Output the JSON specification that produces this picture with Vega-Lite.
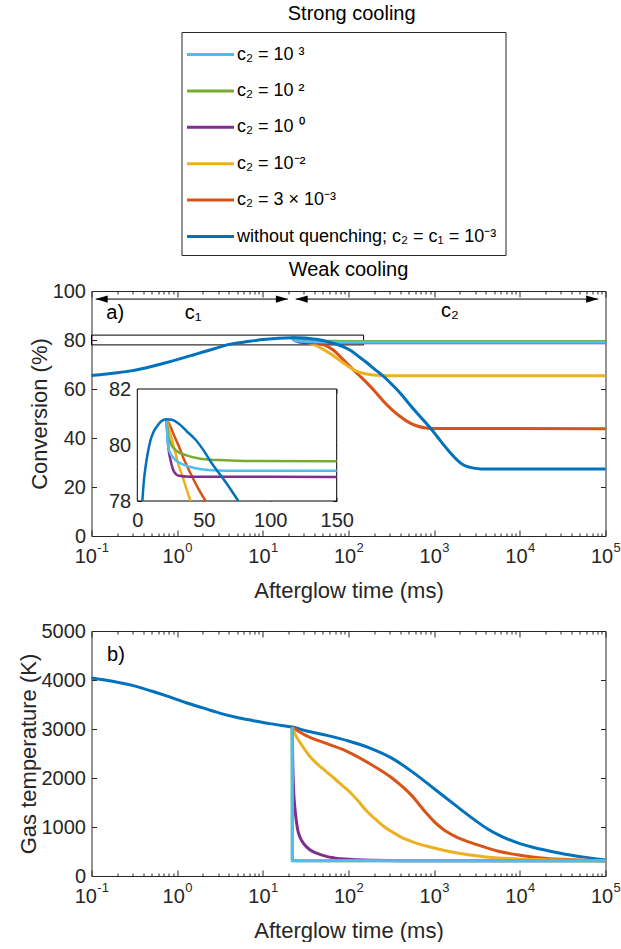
{
  "$schema": "https://vega.github.io/schema/vega-lite/v6.json",
  "background": "white",
  "padding": {"left": 16.5, "top": 3, "right": 0, "bottom": 0},
  "title": {"text": "Strong cooling", "fontSize": 20, "font": "Liberation Sans", "fontWeight": "normal", "color": "#000000", "anchor": "middle", "offset": 8, "dx": 33},
  "config": {
    "font": "Liberation Sans",
    "view": {"stroke": "#262626", "strokeWidth": 1},
    "axis": {"grid": false, "labelFont": "Liberation Sans", "labelFontSize": 20, "labelColor": "#262626", "titleFont": "Liberation Sans", "titleFontSize": 22, "titleFontWeight": "normal", "titleColor": "#262626", "domainColor": "#262626", "tickColor": "#262626", "tickWidth": 1, "zindex": 1, "labelOverlap": false, "labelFlush": false, "labelBound": false},
    "legend": {"orient": "none", "legendX": 90, "legendY": -259, "symbolType": "M-2,0L2,0", "symbolSize": 552, "symbolStrokeWidth": 3, "labelFontSize": 18, "labelFont": "Liberation Sans", "labelColor": "#000000", "labelLimit": 600, "rowPadding": 13.4, "strokeColor": "#262626", "fillColor": "white", "padding": 9, "labelOffset": 13, "symbolOffset": 6.5}
  },
  "datasets": {
    "conv": [
      {"s":"q3m3","t":22,"v":80.92},{"s":"q3m3","t":25,"v":80.65},{"s":"q3m3","t":28,"v":80.3},{"s":"q3m3","t":31.4,"v":79.94},{"s":"q3m3","t":35,"v":79.5},{"s":"q3m3","t":38.9,"v":79.1},{"s":"q3m3","t":46.4,"v":78.4},{"s":"q3m3","t":51.4,"v":78.0},{"s":"q3m3","t":67,"v":75.8},{"s":"q3m3","t":85,"v":72.3},{"s":"q3m3","t":106,"v":69.0},{"s":"q3m3","t":130,"v":65.9},{"s":"q3m3","t":166,"v":62.3},{"s":"q3m3","t":210,"v":58.5},{"s":"q3m3","t":259,"v":54.8},{"s":"q3m3","t":330,"v":51.2},{"s":"q3m3","t":405,"v":48.7},{"s":"q3m3","t":500,"v":46.5},{"s":"q3m3","t":634,"v":44.9},{"s":"q3m3","t":800,"v":44.1},{"s":"q3m3","t":1000,"v":43.85},{"s":"q3m3","t":100000,"v":43.8},
      {"s":"qm2","t":22,"v":80.92},{"s":"qm2","t":24,"v":80.55},{"s":"qm2","t":26,"v":80.2},{"s":"qm2","t":28.8,"v":79.7},{"s":"qm2","t":31,"v":79.3},{"s":"qm2","t":34,"v":78.87},{"s":"qm2","t":40,"v":78.0},{"s":"qm2","t":50,"v":76.3},{"s":"qm2","t":67,"v":73.6},{"s":"qm2","t":85,"v":70.9},{"s":"qm2","t":106,"v":68.6},{"s":"qm2","t":130,"v":67.0},{"s":"qm2","t":151,"v":66.3},{"s":"qm2","t":216,"v":65.6},{"s":"qm2","t":300,"v":65.45},{"s":"qm2","t":100000,"v":65.4},
      {"s":"q0","t":22,"v":80.92},{"s":"q0","t":22.3,"v":80.6},{"s":"q0","t":23.3,"v":79.94},{"s":"q0","t":25,"v":79.46},{"s":"q0","t":27.6,"v":79.05},{"s":"q0","t":31.4,"v":78.9},{"s":"q0","t":38.9,"v":78.87},{"s":"q0","t":150,"v":78.86},{"s":"q0","t":100000,"v":78.86},
      {"s":"q2","t":22,"v":80.92},{"s":"q2","t":22.6,"v":80.54},{"s":"q2","t":25,"v":80.06},{"s":"q2","t":28.8,"v":79.82},{"s":"q2","t":36.4,"v":79.64},{"s":"q2","t":46.4,"v":79.52},{"s":"q2","t":61.4,"v":79.46},{"s":"q2","t":80,"v":79.43},{"s":"q2","t":150,"v":79.42},{"s":"q2","t":100000,"v":79.42},
      {"s":"q3","t":22,"v":80.92},{"s":"q3","t":22.6,"v":80.3},{"s":"q3","t":23.8,"v":79.82},{"s":"q3","t":28.8,"v":79.46},{"s":"q3","t":33,"v":79.33},{"s":"q3","t":38.9,"v":79.23},{"s":"q3","t":47,"v":79.14},{"s":"q3","t":56.4,"v":79.1},{"s":"q3","t":75,"v":79.08},{"s":"q3","t":150,"v":79.08},{"s":"q3","t":100000,"v":79.08},
      {"s":"none","t":0.1,"v":65.5},{"s":"none","t":0.15,"v":66.1},{"s":"none","t":0.2,"v":66.6},{"s":"none","t":0.3,"v":67.5},{"s":"none","t":0.5,"v":69.2},{"s":"none","t":0.7,"v":70.5},{"s":"none","t":1,"v":72.0},{"s":"none","t":1.5,"v":73.8},{"s":"none","t":2,"v":75.1},{"s":"none","t":3,"v":76.9},{"s":"none","t":3.8,"v":78.0},{"s":"none","t":5,"v":78.75},{"s":"none","t":6.3,"v":79.25},{"s":"none","t":8,"v":79.75},{"s":"none","t":10,"v":80.18},{"s":"none","t":12,"v":80.45},{"s":"none","t":15,"v":80.68},{"s":"none","t":18,"v":80.85},{"s":"none","t":22,"v":80.92},{"s":"none","t":26,"v":80.9},{"s":"none","t":31,"v":80.77},{"s":"none","t":37,"v":80.5},{"s":"none","t":44,"v":80.18},{"s":"none","t":50,"v":79.8},{"s":"none","t":56,"v":79.35},{"s":"none","t":63,"v":78.9},{"s":"none","t":69,"v":78.5},{"s":"none","t":76,"v":78.0},{"s":"none","t":90,"v":77.0},{"s":"none","t":106,"v":75.7},{"s":"none","t":130,"v":73.4},{"s":"none","t":160,"v":71.0},{"s":"none","t":200,"v":68.2},{"s":"none","t":259,"v":65.0},{"s":"none","t":320,"v":61.9},{"s":"none","t":405,"v":58.2},{"s":"none","t":500,"v":54.3},{"s":"none","t":634,"v":50.1},{"s":"none","t":760,"v":47.0},{"s":"none","t":908,"v":44.0},{"s":"none","t":1100,"v":40.3},{"s":"none","t":1297,"v":37.1},{"s":"none","t":1550,"v":33.9},{"s":"none","t":1857,"v":31.0},{"s":"none","t":2200,"v":29.0},{"s":"none","t":2655,"v":28.0},{"s":"none","t":3200,"v":27.5},{"s":"none","t":4000,"v":27.3},{"s":"none","t":100000,"v":27.3}
    ],
    "temp": [
      {"s":"none","t":0.1,"v":4040},{"s":"none","t":0.2,"v":3955},{"s":"none","t":0.3,"v":3890},{"s":"none","t":0.5,"v":3775},{"s":"none","t":0.8,"v":3660},{"s":"none","t":1.3,"v":3530},{"s":"none","t":2,"v":3430},{"s":"none","t":3.2,"v":3320},{"s":"none","t":5,"v":3235},{"s":"none","t":7.8,"v":3170},{"s":"none","t":12,"v":3110},{"s":"none","t":17.6,"v":3065},{"s":"none","t":22,"v":3040},{"s":"none","t":31.6,"v":2965},{"s":"none","t":56,"v":2870},{"s":"none","t":100,"v":2755},{"s":"none","t":178,"v":2610},{"s":"none","t":316,"v":2410},{"s":"none","t":562,"v":2120},{"s":"none","t":1000,"v":1780},{"s":"none","t":1778,"v":1440},{"s":"none","t":3162,"v":1110},{"s":"none","t":4217,"v":960},{"s":"none","t":5623,"v":840},{"s":"none","t":10000,"v":660},{"s":"none","t":17783,"v":545},{"s":"none","t":31623,"v":455},{"s":"none","t":56234,"v":385},{"s":"none","t":100000,"v":325},
      {"s":"q3m3","t":22,"v":3035},{"s":"q3m3","t":31.6,"v":2870},{"s":"q3m3","t":56,"v":2700},{"s":"q3m3","t":100,"v":2530},{"s":"q3m3","t":178,"v":2290},{"s":"q3m3","t":316,"v":2010},{"s":"q3m3","t":562,"v":1620},{"s":"q3m3","t":794,"v":1300},{"s":"q3m3","t":1000,"v":1110},{"s":"q3m3","t":1259,"v":960},{"s":"q3m3","t":1778,"v":805},{"s":"q3m3","t":3162,"v":640},{"s":"q3m3","t":5623,"v":505},{"s":"q3m3","t":10000,"v":425},{"s":"q3m3","t":17783,"v":370},{"s":"q3m3","t":31623,"v":340},{"s":"q3m3","t":56234,"v":320},{"s":"q3m3","t":100000,"v":310},
      {"s":"qm2","t":22,"v":3035},{"s":"qm2","t":23,"v":2950},{"s":"qm2","t":24.5,"v":2850},{"s":"qm2","t":26.4,"v":2760},{"s":"qm2","t":30.2,"v":2606},{"s":"qm2","t":35,"v":2450},{"s":"qm2","t":43,"v":2290},{"s":"qm2","t":55,"v":2130},{"s":"qm2","t":67.5,"v":2000},{"s":"qm2","t":85,"v":1845},{"s":"qm2","t":105.6,"v":1700},{"s":"qm2","t":130,"v":1530},{"s":"qm2","t":166,"v":1310},{"s":"qm2","t":210,"v":1150},{"s":"qm2","t":259,"v":1010},{"s":"qm2","t":330,"v":890},{"s":"qm2","t":405,"v":800},{"s":"qm2","t":634,"v":665},{"s":"qm2","t":1000,"v":570},{"s":"qm2","t":1553,"v":496},{"s":"qm2","t":2500,"v":435},{"s":"qm2","t":3800,"v":394},{"s":"qm2","t":9310,"v":349},{"s":"qm2","t":19050,"v":333},{"s":"qm2","t":100000,"v":312},
      {"s":"q0","t":22,"v":3035},{"s":"q0","t":22.3,"v":2400},{"s":"q0","t":22.8,"v":1800},{"s":"q0","t":23.5,"v":1450},{"s":"q0","t":24.5,"v":1150},{"s":"q0","t":25.5,"v":950},{"s":"q0","t":27,"v":800},{"s":"q0","t":30,"v":660},{"s":"q0","t":35,"v":540},{"s":"q0","t":43,"v":460},{"s":"q0","t":55,"v":400},{"s":"q0","t":68,"v":370},{"s":"q0","t":90,"v":345},{"s":"q0","t":126,"v":330},{"s":"q0","t":200,"v":320},{"s":"q0","t":400,"v":313},{"s":"q0","t":100000,"v":310},
      {"s":"q2","t":22,"v":3035},{"s":"q2","t":22.1,"v":330},{"s":"q2","t":23,"v":312},{"s":"q2","t":100000,"v":310},
      {"s":"q3","t":22,"v":3035},{"s":"q3","t":22.05,"v":310},{"s":"q3","t":100000,"v":310}
    ]
  },
  "spacing": 18,
  "vconcat": [
    {
      "width": 514,
      "height": 245,
      "title": {"text": "Weak cooling", "fontSize": 20, "font": "Liberation Sans", "fontWeight": "normal", "color": "#000000", "anchor": "middle", "offset": 1},
      "resolve": {"scale": {"x": "independent", "y": "independent"}},
      "layer": [
        {
          "mark": {"type": "rule", "color": "#6CB4E4", "strokeWidth": 1.5, "strokeDash": [8, 5]},
          "encoding": {"x": {"datum": 22, "type": "quantitative", "scale": {"type": "log", "domain": [0.1, 100000], "nice": false}, "axis": null}}
        },
        {
          "data": {"values": [{"t1": 0.1, "t2": 150, "v1": 78, "v2": 82}]},
          "mark": {"type": "rect", "fill": "white", "fillOpacity": 0, "stroke": "black", "strokeWidth": 1},
          "encoding": {
            "x": {"field": "t1", "type": "quantitative", "scale": {"type": "log", "domain": [0.1, 100000], "nice": false},
              "axis": {"orient": "top", "values": [0.1,0.2,0.3,0.4,0.5,0.6,0.7,0.8,0.9,1,2,3,4,5,6,7,8,9,10,20,30,40,50,60,70,80,90,100,200,300,400,500,600,700,800,900,1000,2000,3000,4000,5000,6000,7000,8000,9000,10000,20000,30000,40000,50000,60000,70000,80000,90000,100000], "labels": false, "domain": false, "title": null,
                "tickSize": {"condition": {"test": "indexof([0.1,1,10,100,1000,10000,100000], datum.value) >= 0", "value": -6}, "value": -3}}},
            "x2": {"field": "t2"},
            "y": {"field": "v1", "type": "quantitative", "scale": {"domain": [0, 100], "nice": false, "zero": false},
              "axis": {"orient": "right", "values": [0, 20, 40, 60, 80, 100], "labels": false, "domain": false, "title": null, "tickSize": -5}},
            "y2": {"field": "v2"}
          }
        },
        {
          "data": {"name": "conv"},
          "mark": {"type": "line", "strokeWidth": 3, "interpolate": "monotone"},
          "encoding": {
            "x": {"field": "t", "type": "quantitative", "scale": {"type": "log", "domain": [0.1, 100000], "nice": false},
              "axis": {"orient": "bottom", "values": [0.1,0.2,0.3,0.4,0.5,0.6,0.7,0.8,0.9,1,2,3,4,5,6,7,8,9,10,20,30,40,50,60,70,80,90,100,200,300,400,500,600,700,800,900,1000,2000,3000,4000,5000,6000,7000,8000,9000,10000,20000,30000,40000,50000,60000,70000,80000,90000,100000],
                "labelExpr": "indexof([0.1,1,10,100,1000,10000,100000], datum.value) >= 0 ? '10' : ''",
                "labelAlign": "right",
                "labelOffset": {"condition": {"test": "datum.value == 0.1", "value": 4.9}, "value": 7.2},
                "tickSize": {"condition": {"test": "indexof([0.1,1,10,100,1000,10000,100000], datum.value) >= 0", "value": -6}, "value": -3},
                "labelPadding": 16.5, "domain": false, "title": "Afterglow time (ms)", "titlePadding": 10.5}},
            "y": {"field": "v", "type": "quantitative", "scale": {"domain": [0, 100], "nice": false, "zero": false},
              "axis": {"orient": "left", "values": [0, 20, 40, 60, 80, 100], "tickSize": -5, "labelPadding": 11, "domain": false, "title": "Conversion (%)", "titlePadding": 1}},
            "color": {"field": "s", "type": "nominal",
              "scale": {"domain": ["q3", "q2", "q0", "qm2", "q3m3", "none"], "range": ["#4DBEEE", "#77AC30", "#7E2F8E", "#EDB120", "#D95319", "#0072BD"]},
              "legend": {"title": null, "labelExpr": "datum.value == 'q3' ? 'c₂ = 10 ³' : datum.value == 'q2' ? 'c₂ = 10 ²' : datum.value == 'q0' ? 'c₂ = 10 ⁰' : datum.value == 'qm2' ? 'c₂ = 10⁻²' : datum.value == 'q3m3' ? 'c₂ = 3 × 10⁻³' : 'without quenching; c₂ = c₁ = 10⁻³'"}}
          }
        },
        {
          "data": {"values": [{"t1": 0.112, "t2": 19.6, "v": 96.7}, {"t1": 24.2, "t2": 82000, "v": 96.7}]},
          "mark": {"type": "rule", "color": "black", "strokeWidth": 1},
          "encoding": {
            "x": {"field": "t1", "type": "quantitative", "scale": {"type": "log", "domain": [0.1, 100000], "nice": false},
              "axis": {"orient": "bottom", "values": [0.1, 1, 10, 100, 1000, 10000, 100000],
                "labelExpr": "datum.value == 0.1 ? '-1' : datum.value == 1 ? '0' : datum.value == 10 ? '1' : datum.value == 100 ? '2' : datum.value == 1000 ? '3' : datum.value == 10000 ? '4' : '5'",
                "labelAlign": "left", "labelFontSize": 13,
                "labelOffset": {"condition": {"test": "datum.value == 0.1", "value": 5.3}, "value": 7.6},
                "ticks": false, "domain": false, "title": null, "labelPadding": 5.5}},
            "x2": {"field": "t2"},
            "y": {"field": "v", "type": "quantitative", "scale": {"domain": [0, 100], "nice": false, "zero": false}, "axis": null}
          }
        },
        {
          "data": {"values": [{"t": 0.112, "v": 96.7, "d": "left"}, {"t": 19.6, "v": 96.7, "d": "right"}, {"t": 24.2, "v": 96.7, "d": "left"}, {"t": 82000, "v": 96.7, "d": "right"}]},
          "mark": {"type": "point", "filled": true, "color": "black", "opacity": 1, "size": 144},
          "encoding": {
            "x": {"field": "t", "type": "quantitative", "scale": {"type": "log", "domain": [0.1, 100000], "nice": false}, "axis": null},
            "y": {"field": "v", "type": "quantitative", "scale": {"domain": [0, 100], "nice": false, "zero": false}, "axis": null},
            "shape": {"field": "d", "type": "nominal", "scale": {"domain": ["left", "right"], "range": ["M0,0L2,-0.6L2,0.6Z", "M0,0L-2,-0.6L-2,0.6Z"]}, "legend": null}
          }
        },
        {
          "data": {"values": [{"t": 0.149, "v": 90.9, "label": "a)"}, {"t": 1.23, "v": 91, "label": "c₁"}, {"t": 1200, "v": 92, "label": "c₂"}]},
          "mark": {"type": "text", "align": "left", "baseline": "middle", "fontSize": 20, "font": "Liberation Sans", "color": "#000000"},
          "encoding": {
            "x": {"field": "t", "type": "quantitative", "scale": {"type": "log", "domain": [0.1, 100000], "nice": false}, "axis": null},
            "y": {"field": "v", "type": "quantitative", "scale": {"domain": [0, 100], "nice": false, "zero": false}, "axis": null},
            "text": {"field": "label"}
          }
        },
        {
          "data": {"values": [{"x1": 0, "x2": 150, "y1": 78, "y2": 82}]},
          "mark": {"type": "rect", "fill": "white", "stroke": "black", "strokeWidth": 1},
          "encoding": {
            "x": {"field": "x1", "type": "quantitative", "scale": {"domain": [0, 150], "range": [45.8, 245.2], "nice": false, "zero": false},
              "axis": {"orient": "bottom", "offset": -35, "values": [0, 50, 100, 150], "tickSize": -4, "labelPadding": 13, "domain": false, "title": null}},
            "x2": {"field": "x2"},
            "y": {"field": "y1", "type": "quantitative", "scale": {"domain": [78, 82], "range": [210, 98], "nice": false, "zero": false},
              "axis": {"orient": "left", "offset": -45.8, "values": [78, 80, 82], "tickSize": -4, "labelPadding": 10.6, "domain": false, "title": null}},
            "y2": {"field": "y2"}
          }
        },
        {
          "mark": {"type": "rule", "color": "#0072BD", "strokeWidth": 1, "strokeDash": [5, 3]},
          "encoding": {
            "x": {"datum": 22, "type": "quantitative", "scale": {"domain": [0, 150], "range": [45.8, 245.2], "nice": false, "zero": false}, "axis": null},
            "y": {"datum": 78, "type": "quantitative", "scale": {"domain": [78, 82], "range": [210, 98], "nice": false, "zero": false}, "axis": null},
            "y2": {"datum": 82}
          }
        },
        {
          "data": {"name": "conv"},
          "transform": [{"filter": "datum.t <= 150 && datum.v >= 78"}],
          "mark": {"type": "line", "strokeWidth": 2.5, "interpolate": "monotone"},
          "encoding": {
            "x": {"field": "t", "type": "quantitative", "scale": {"domain": [0, 150], "range": [45.8, 245.2], "nice": false, "zero": false},
              "axis": {"orient": "top", "offset": -98, "values": [0, 50, 100, 150], "tickSize": -4, "labels": false, "domain": false, "title": null}},
            "y": {"field": "v", "type": "quantitative", "scale": {"domain": [78, 82], "range": [210, 98], "nice": false, "zero": false},
              "axis": {"orient": "right", "offset": -268.8, "values": [78, 80, 82], "tickSize": -4, "labels": false, "domain": false, "title": null}},
            "color": {"field": "s", "type": "nominal",
              "scale": {"domain": ["q3", "q2", "q0", "qm2", "q3m3", "none"], "range": ["#4DBEEE", "#77AC30", "#7E2F8E", "#EDB120", "#D95319", "#0072BD"]},
              "legend": {"title": null, "labelExpr": "datum.value == 'q3' ? 'c₂ = 10 ³' : datum.value == 'q2' ? 'c₂ = 10 ²' : datum.value == 'q0' ? 'c₂ = 10 ⁰' : datum.value == 'qm2' ? 'c₂ = 10⁻²' : datum.value == 'q3m3' ? 'c₂ = 3 × 10⁻³' : 'without quenching; c₂ = c₁ = 10⁻³'"}}
          }
        }
      ]
    },
    {
      "width": 514,
      "height": 245,
      "resolve": {"scale": {"x": "independent", "y": "independent"}},
      "layer": [
        {
          "mark": {"type": "rule", "color": "#6CB4E4", "strokeWidth": 1.5, "strokeDash": [8, 5]},
          "encoding": {"x": {"datum": 22, "type": "quantitative", "scale": {"type": "log", "domain": [0.1, 100000], "nice": false},
            "axis": {"orient": "bottom", "values": [0.1, 1, 10, 100, 1000, 10000, 100000],
              "labelExpr": "datum.value == 0.1 ? '-1' : datum.value == 1 ? '0' : datum.value == 10 ? '1' : datum.value == 100 ? '2' : datum.value == 1000 ? '3' : datum.value == 10000 ? '4' : '5'",
              "labelAlign": "left", "labelFontSize": 13,
              "labelOffset": {"condition": {"test": "datum.value == 0.1", "value": 5.3}, "value": 7.6},
              "ticks": false, "domain": false, "title": null, "labelPadding": 5.5}}}
        },
        {
          "data": {"name": "temp"},
          "mark": {"type": "line", "strokeWidth": 3, "interpolate": "monotone"},
          "encoding": {
            "x": {"field": "t", "type": "quantitative", "scale": {"type": "log", "domain": [0.1, 100000], "nice": false},
              "axis": {"orient": "bottom", "values": [0.1,0.2,0.3,0.4,0.5,0.6,0.7,0.8,0.9,1,2,3,4,5,6,7,8,9,10,20,30,40,50,60,70,80,90,100,200,300,400,500,600,700,800,900,1000,2000,3000,4000,5000,6000,7000,8000,9000,10000,20000,30000,40000,50000,60000,70000,80000,90000,100000],
                "labelExpr": "indexof([0.1,1,10,100,1000,10000,100000], datum.value) >= 0 ? '10' : ''",
                "labelAlign": "right",
                "labelOffset": {"condition": {"test": "datum.value == 0.1", "value": 4.9}, "value": 7.2},
                "tickSize": {"condition": {"test": "indexof([0.1,1,10,100,1000,10000,100000], datum.value) >= 0", "value": -6}, "value": -3},
                "labelPadding": 16.5, "domain": false, "title": "Afterglow time (ms)", "titlePadding": 10.5}},
            "y": {"field": "v", "type": "quantitative", "scale": {"domain": [0, 5000], "nice": false, "zero": false},
              "axis": {"orient": "left", "values": [0, 1000, 2000, 3000, 4000, 5000], "format": "d", "tickSize": -5, "labelPadding": 11, "domain": false, "title": "Gas temperature (K)", "titlePadding": 1}},
            "color": {"field": "s", "type": "nominal",
              "scale": {"domain": ["q3", "q2", "q0", "qm2", "q3m3", "none"], "range": ["#4DBEEE", "#77AC30", "#7E2F8E", "#EDB120", "#D95319", "#0072BD"]},
              "legend": {"title": null, "labelExpr": "datum.value == 'q3' ? 'c₂ = 10 ³' : datum.value == 'q2' ? 'c₂ = 10 ²' : datum.value == 'q0' ? 'c₂ = 10 ⁰' : datum.value == 'qm2' ? 'c₂ = 10⁻²' : datum.value == 'q3m3' ? 'c₂ = 3 × 10⁻³' : 'without quenching; c₂ = c₁ = 10⁻³'"}}
          }
        },
        {
          "data": {"values": [{"t": 0.152, "v": 4510, "label": "b)"}]},
          "mark": {"type": "text", "align": "left", "baseline": "middle", "fontSize": 20, "font": "Liberation Sans", "color": "#000000"},
          "encoding": {
            "x": {"field": "t", "type": "quantitative", "scale": {"type": "log", "domain": [0.1, 100000], "nice": false},
              "axis": {"orient": "top", "values": [0.1,0.2,0.3,0.4,0.5,0.6,0.7,0.8,0.9,1,2,3,4,5,6,7,8,9,10,20,30,40,50,60,70,80,90,100,200,300,400,500,600,700,800,900,1000,2000,3000,4000,5000,6000,7000,8000,9000,10000,20000,30000,40000,50000,60000,70000,80000,90000,100000], "labels": false, "domain": false, "title": null,
                "tickSize": {"condition": {"test": "indexof([0.1,1,10,100,1000,10000,100000], datum.value) >= 0", "value": -6}, "value": -3}}},
            "y": {"field": "v", "type": "quantitative", "scale": {"domain": [0, 5000], "nice": false, "zero": false},
              "axis": {"orient": "right", "values": [0, 1000, 2000, 3000, 4000, 5000], "labels": false, "domain": false, "title": null, "tickSize": -5}},
            "text": {"field": "label"}
          }
        }
      ]
    }
  ]
}
